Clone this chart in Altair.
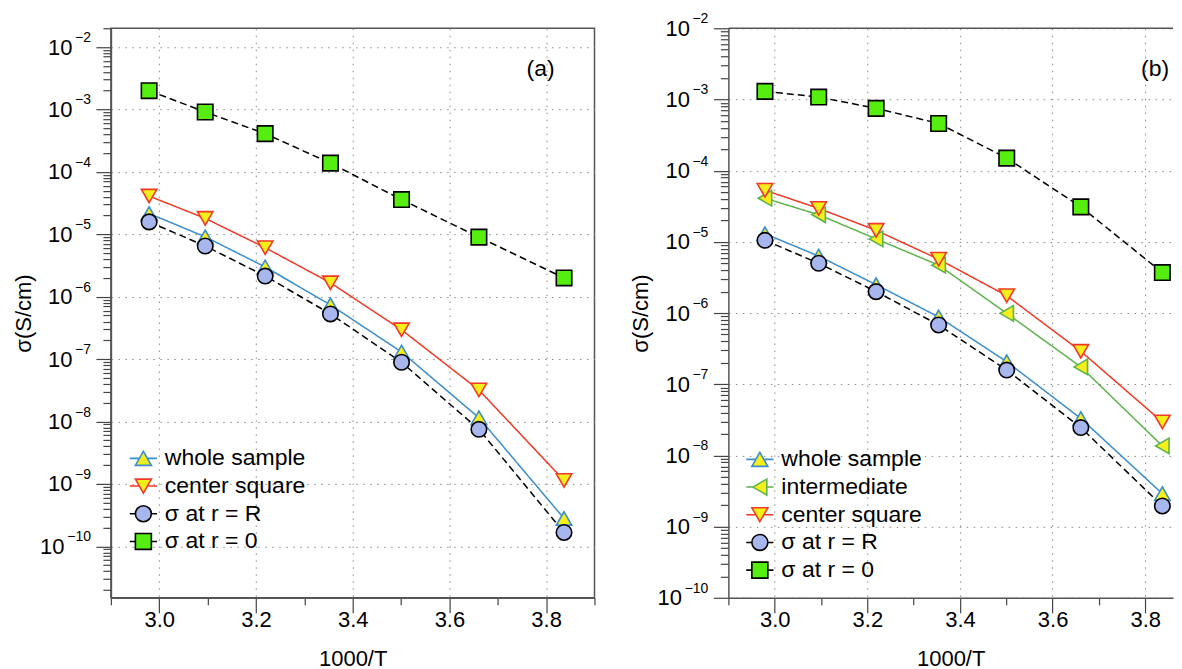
import altair as alt
import pandas as pd

# ---------------- data ----------------
x_vals = [2.979, 3.095, 3.219, 3.354, 3.501, 3.661, 3.837]

a_whole = [2.15e-5, 9.1e-6, 3.0e-6, 7.4e-7, 1.3e-7, 1.15e-8, 2.8e-10]
a_center = [4.1e-5, 1.8e-5, 6.1e-6, 1.67e-6, 2.95e-7, 3.2e-8, 1.14e-9]
a_sigR = [1.58e-5, 6.5e-6, 2.14e-6, 5.3e-7, 8.9e-8, 7.5e-9, 1.67e-10]
a_sig0 = [2.0e-3, 9.1e-4, 4.1e-4, 1.38e-4, 3.6e-5, 9.0e-6, 2.0e-6]

b_whole = [1.3e-5, 6.3e-6, 2.5e-6, 8.8e-7, 2.07e-7, 3.3e-8, 2.9e-9]
b_inter = [4.1e-5, 2.4e-5, 1.1e-5, 4.7e-6, 9.9e-7, 1.75e-7, 1.36e-8]
b_center = [5.3e-5, 2.95e-5, 1.45e-5, 5.7e-6, 1.75e-6, 2.9e-7, 2.95e-8]
b_sigR = [1.05e-5, 5.0e-6, 2.0e-6, 6.8e-7, 1.58e-7, 2.46e-8, 1.95e-9]
b_sig0 = [1.3e-3, 1.08e-3, 7.5e-4, 4.6e-4, 1.5e-4, 3.1e-5, 3.7e-6]

S_WHOLE = "whole sample"
S_INTER = "intermediate"
S_CENTER = "center square"
S_R = "σ at r = R"
S_0 = "σ at r = 0"

x_ticks = [2.9, 3.0, 3.1, 3.2, 3.3, 3.4, 3.5, 3.6, 3.7, 3.8, 3.9]
y_exponents = [-11, -10, -9, -8, -7, -6, -5, -4, -3, -2]
y_tick_base = "10"
y_tick_sups = ["−11", "−10", "−9", "−8", "−7", "−6", "−5", "−4", "−3", "−2"]

# ---------------- styles ----------------
FONT = "Liberation Sans"
YELLOW = "#f7ef1c"
stroke_col = {S_WHOLE: "#3b8dcc", S_INTER: "#5fb34c", S_CENTER: "#ef3a26", S_R: "#000000", S_0: "#000000"}
fill_col = {S_WHOLE: YELLOW, S_INTER: YELLOW, S_CENTER: YELLOW, S_R: "#a7b6ec", S_0: "#55ee10"}
shape_of = {S_WHOLE: "triangle-up", S_INTER: "triangle-left", S_CENTER: "triangle-down", S_R: "circle", S_0: "square"}
size_of = {S_WHOLE: 240, S_INTER: 240, S_CENTER: 240, S_R: 270, S_0: 300}
sw_of = {S_WHOLE: 1.6, S_INTER: 1.6, S_CENTER: 1.6, S_R: 2.0, S_0: 2.0}
dash_of = {S_WHOLE: [1, 0], S_INTER: [1, 0], S_CENTER: [1, 0], S_R: [7, 4], S_0: [7, 4]}
legend_path = {
    S_WHOLE: "M-1.7,0L-0.5,0M0.5,0L1.7,0M0,-0.87L1,0.87L-1,0.87Z",
    S_INTER: "M-1.7,0L-0.87,0M0.87,0L1.7,0M-0.87,0L0.87,-1L0.87,1Z",
    S_CENTER: "M-1.7,0L-0.5,0M0.5,0L1.7,0M0,0.87L1,-0.87L-1,-0.87Z",
    S_R: "M-1.7,0L-1,0M1,0L1.7,0M1,0A1,1,0,1,1,-1,0A1,1,0,1,1,1,0Z",
    S_0: "M-1.7,0L-1,0M1,0L1.7,0M-1,-1L1,-1L1,1L-1,1Z",
}

H = 570

x_major = "abs(datum.value*5 - round(datum.value*5)) < 0.01"
y_major = "abs(log(datum.value)/LN10 - round(log(datum.value)/LN10)) < 0.001"
y_two_digit = "datum.value < 3e-10"
y_label_expr = f"({y_major}) ? '{y_tick_base}' : ''"


def panel(series, ylo, yhi, xhi, width, tag, tag_x, legend_x, legend_y, frame_right=True):
    rows = []
    for name, vals in series:
        for xv, yv in zip(x_vals, vals):
            rows.append({"x": xv, "y": yv, "series": name})
    df = pd.DataFrame(rows)
    dom = [n for n, _ in series]

    yvals = []
    for e in y_exponents:
        for k in range(1, 10):
            v = k * 10.0 ** e
            if ylo * 0.999 <= v <= yhi * 1.001:
                yvals.append(v)
    xvals = [t for t in x_ticks if t <= xhi + 1e-9]
    sup_rows = [
        {"y": 10.0 ** e, "sup": s}
        for e, s in zip(y_exponents, y_tick_sups)
        if ylo * 0.999 <= 10.0 ** e <= yhi * 1.001
    ]

    x_enc = alt.X(
        "x:Q",
        scale=alt.Scale(domain=[2.9, xhi], nice=False, zero=False),
        axis=alt.Axis(
            values=xvals,
            labelExpr=f"({x_major}) ? format(datum.value, '.1f') : ''",
            tickSize={"condition": {"test": x_major, "value": 15}, "value": 7},
            gridOpacity={"condition": {"test": x_major, "value": 1}, "value": 0},
            grid=True,
            labelPadding=-3,
            labelOverlap=False,
            labelFlush=False,
            title="1000/T",
            titlePadding=18,
        ),
    )
    y_enc = alt.Y(
        "y:Q",
        scale=alt.Scale(type="log", domain=[ylo, yhi], nice=False),
        axis=alt.Axis(
            values=yvals,
            labelExpr=y_label_expr,
            tickSize={"condition": {"test": y_major, "value": 15}, "value": 8},
            gridOpacity={"condition": {"test": y_major, "value": 1}, "value": 0},
            grid=True,
            labelPadding={"condition": {"test": y_two_digit, "value": 32}, "value": 24},
            labelOverlap=False,
            labelFlush=False,
            title="σ(S/cm)",
            titlePadding=4,
        ),
    )

    base = alt.Chart(df)
    lines = base.mark_line(strokeWidth=1.5).encode(
        x=x_enc,
        y=y_enc,
        stroke=alt.Stroke("series:N", scale=alt.Scale(domain=dom, range=[stroke_col[n] for n in dom]), legend=None),
        strokeDash=alt.StrokeDash("series:N", scale=alt.Scale(domain=dom, range=[dash_of[n] for n in dom]), legend=None),
    )
    points = base.mark_point(filled=True, opacity=1).encode(
        x="x:Q",
        y="y:Q",
        shape=alt.Shape("series:N", scale=alt.Scale(domain=dom, range=[shape_of[n] for n in dom]), legend=None),
        fill=alt.Fill("series:N", scale=alt.Scale(domain=dom, range=[fill_col[n] for n in dom]), legend=None),
        stroke=alt.Stroke("series:N", scale=alt.Scale(domain=dom, range=[stroke_col[n] for n in dom]), legend=None),
        size=alt.Size("series:N", scale=alt.Scale(domain=dom, range=[size_of[n] for n in dom]), legend=None),
        strokeWidth=alt.StrokeWidth("series:N", scale=alt.Scale(domain=dom, range=[sw_of[n] for n in dom]), legend=None),
    )
    leg = alt.Legend(
        title=None,
        orient="none",
        legendX=legend_x,
        legendY=legend_y,
        labelFont=FONT,
        labelFontSize=23,
        labelColor="black",
        symbolSize=256,
        symbolStrokeWidth=1.6,
        rowPadding=3.7,
        labelOffset=10,
        padding=0,
    )
    legend_layer = base.transform_filter("false").mark_point(filled=True, opacity=1).encode(
        shape=alt.Shape("series:N", scale=alt.Scale(domain=dom, range=[legend_path[n] for n in dom]), legend=leg),
        fill=alt.Fill("series:N", scale=alt.Scale(domain=dom, range=[fill_col[n] for n in dom]), legend=leg),
        stroke=alt.Stroke("series:N", scale=alt.Scale(domain=dom, range=[stroke_col[n] for n in dom]), legend=leg),
    )
    sup_layer = alt.Chart(alt.Data(values=sup_rows)).mark_text(
        font=FONT, fontSize=14, color="black", align="right", baseline="middle", dy=-9
    ).encode(y="y:Q", x=alt.value(-20), text="sup:N")
    tag_layer = alt.Chart(alt.Data(values=[{"t": tag}])).mark_text(
        font=FONT, fontSize=23, color="black", align="center", baseline="middle"
    ).encode(text="t:N", x=alt.value(tag_x), y=alt.value(41))

    layers = [lines, points, legend_layer, sup_layer, tag_layer]
    props = dict(width=width, height=H)
    if not frame_right:
        top_rule = alt.Chart(alt.Data(values=[{"k": 0}])).mark_rule(color="#555555", strokeWidth=1.5).encode(
            x=alt.value(0), x2=alt.value(width), y=alt.value(0)
        )
        layers.append(top_rule)
        props["view"] = alt.ViewBackground(stroke=None)
    return alt.layer(*layers).resolve_scale(
        shape="independent", fill="independent", stroke="independent"
    ).properties(**props)


panel_a = panel(
    [(S_WHOLE, a_whole), (S_CENTER, a_center), (S_R, a_sigR), (S_0, a_sig0)],
    1.5e-11, 2e-2, 3.9, 484, "(a)", 430, 21, 419,
)
panel_b = panel(
    [(S_WHOLE, b_whole), (S_INTER, b_inter), (S_CENTER, b_center), (S_R, b_sigR), (S_0, b_sig0)],
    1e-10, 1e-2, 3.86, 445, "(b)", 427, 20, 420, frame_right=False,
)

chart = alt.hconcat(panel_a, panel_b, spacing=134, bounds="flush").properties(
    padding={"left": 3, "top": 4, "right": 0, "bottom": 0}
).configure_axis(
    labelFont=FONT,
    labelFontSize=22,
    labelColor="black",
    titleFont=FONT,
    titleFontSize=22,
    titleFontWeight="normal",
    titleColor="black",
    domainColor="#555555",
    domainWidth=1.5,
    tickColor="#444444",
    tickWidth=1.2,
    gridColor="#8a8a8a",
    gridDash=[1.5, 5.5],
    gridWidth=1,
).configure_view(stroke="#555555", strokeWidth=1.5)

chart.save("out.html", embed_options={"renderer": "svg", "actions": False})
